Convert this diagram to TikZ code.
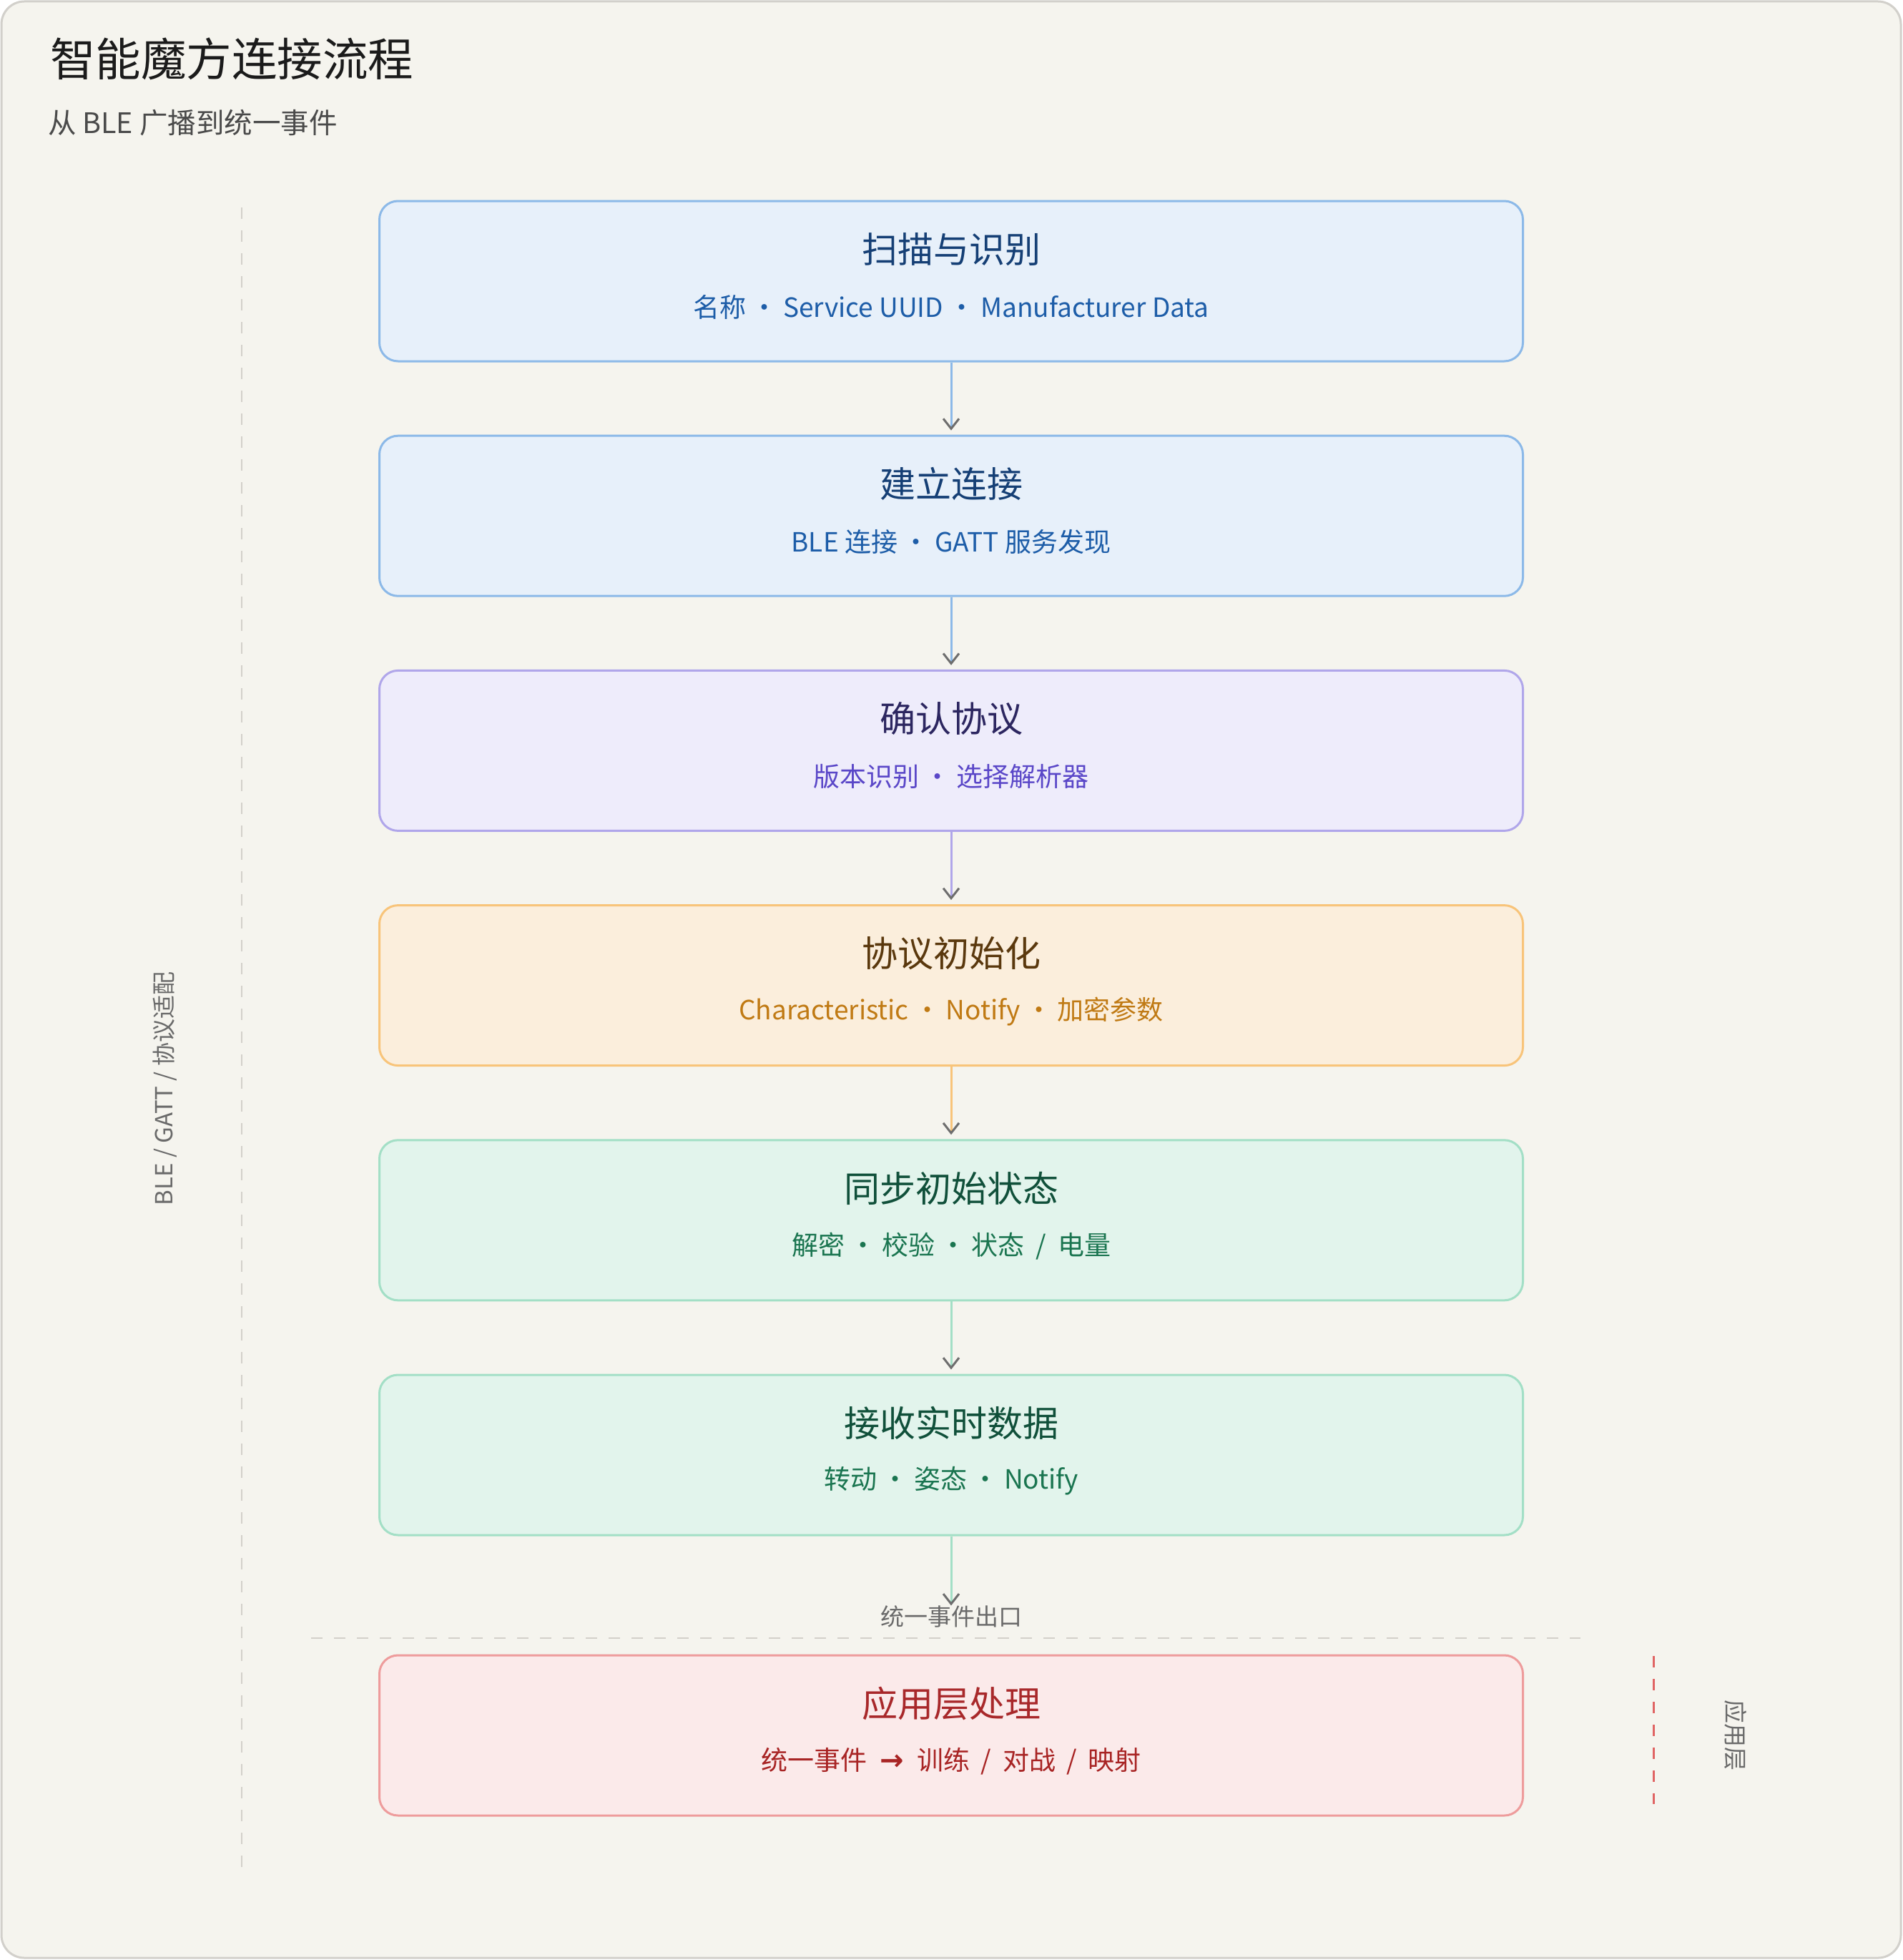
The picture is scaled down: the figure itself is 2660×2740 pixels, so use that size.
\documentclass[tikz,border=0pt]{standalone}
\usepackage{fontspec}
\setmainfont{Noto Sans CJK SC}
\newfontfamily\dejavu{DejaVu Sans}
\usetikzlibrary{arrows.meta,calc}

\definecolor{bg}{HTML}{F5F4EE}
\definecolor{framegray}{HTML}{D2D0CB}
\definecolor{dashgray}{HTML}{D3D0CA}
\definecolor{arrowgray}{HTML}{6E6E6E}
\definecolor{labelgray}{HTML}{6A6A6A}
\definecolor{titleblack}{HTML}{1B1B1B}
\definecolor{subgray}{HTML}{4A4A4A}
% blue
\definecolor{bFill}{HTML}{E7F0FA}
\definecolor{bLine}{HTML}{8CB9E8}
\definecolor{bTitle}{HTML}{153F75}
\definecolor{bSub}{HTML}{1D5DA8}
% lavender
\definecolor{vFill}{HTML}{EEECFB}
\definecolor{vLine}{HTML}{B0A6EA}
\definecolor{vTitle}{HTML}{2C2660}
\definecolor{vSub}{HTML}{5A47C8}
% orange
\definecolor{oFill}{HTML}{FBEEDC}
\definecolor{oLine}{HTML}{F8C47A}
\definecolor{oTitle}{HTML}{5A380D}
\definecolor{oSub}{HTML}{C07A14}
% green
\definecolor{gFill}{HTML}{E2F4EC}
\definecolor{gLine}{HTML}{A3DFC6}
\definecolor{gTitle}{HTML}{10503A}
\definecolor{gSub}{HTML}{1A7550}
% red
\definecolor{rFill}{HTML}{FBEAEA}
\definecolor{rLine}{HTML}{EE9C9C}
\definecolor{rTitle}{HTML}{A8282A}
\definecolor{rSub}{HTML}{A82424}
\definecolor{rDash}{HTML}{E06464}

\newcommand\sdot{\makebox[52pt]{·}}
\newcommand\sslash{\makebox[46pt]{/}}
\newcommand\sarrow{\makebox[70pt]{\dejavu\bfseries\fontsize{40pt}{44pt}\selectfont →}}

\begin{document}
\begin{tikzpicture}[x=1pt,y=-1pt,
  flowbox/.style={draw, line width=3pt, rounded corners=26pt,
    minimum width=1599pt, minimum height=224pt, inner sep=0pt},
  ttl/.style={font=\fontsize{50pt}{60pt}\selectfont, inner sep=0pt},
  subttl/.style={font=\fontsize{37pt}{44pt}\selectfont, inner sep=0pt},
  conn/.style={line width=3pt,
    -{Straight Barb[length=14pt,width=22pt,line width=3pt,color=arrowgray]},
    shorten >=6pt},
  guide/.style={line width=2.5pt, draw=dashgray, dash pattern=on 16pt off 16pt},
  sidelbl/.style={font=\fontsize{33pt}{40pt}\selectfont, text=labelgray, inner sep=0pt}
]
\useasboundingbox (0,0) rectangle (2660,2740);
\fill[white] (0,0) rectangle (2660,2740);
\draw[rounded corners=32pt, line width=3pt, draw=framegray, fill=bg] (2,2) rectangle (2658,2737);

% heading
\node[anchor=west, inner sep=0pt, text=titleblack, font=\fontsize{63.5pt}{70pt}\selectfont] (head) at (70,82) {智能魔方连接流程};
\node[anchor=west, inner sep=0pt, text=subgray, font=\fontsize{39.5pt}{44pt}\selectfont] (subhead) at (67,172) {从 BLE 广播到统一事件};

% guides
\coordinate (gTop) at (338,290);
\coordinate (gBot) at (338,2612);
\draw[guide] (gTop) -- (gBot);
\node[sidelbl, rotate=90] (lside) at (231,1522) {BLE / GATT / 协议适配};

\coordinate (hL) at (435,2290);
\coordinate (hR) at (2210,2290);
\draw[guide] (hL) -- (hR);

\coordinate (rTop) at (2312,2315);
\coordinate (rBot) at (2312,2522);
\draw[line width=3pt, draw=rDash, dash pattern=on 16pt off 16pt] (rTop) -- (rBot);
\node[sidelbl, rotate=-90] (rside) at (2427,2426) {应用层};

% boxes
\node[flowbox, draw=bLine, fill=bFill] (b1) at (1330,393) {};
\node[flowbox, draw=bLine, fill=bFill] (b2) at (1330,721.2) {};
\node[flowbox, draw=vLine, fill=vFill] (b3) at (1330,1049.4) {};
\node[flowbox, draw=oLine, fill=oFill] (b4) at (1330,1377.6) {};
\node[flowbox, draw=gLine, fill=gFill] (b5) at (1330,1705.8) {};
\node[flowbox, draw=gLine, fill=gFill] (b6) at (1330,2034) {};
\node[flowbox, draw=rLine, fill=rFill] (b7) at (1330,2426) {};

% texts
\node[ttl, text=bTitle] (t1) at ($(b1.north)+(0,69)$) {扫描与识别};
\node[subttl, text=bSub] (s1) at ($(b1.north)+(0,150)$) {名称\sdot Service UUID\sdot Manufacturer Data};
\node[ttl, text=bTitle] (t2) at ($(b2.north)+(0,69)$) {建立连接};
\node[subttl, text=bSub] (s2) at ($(b2.north)+(0,150)$) {BLE 连接\sdot GATT 服务发现};
\node[ttl, text=vTitle] (t3) at ($(b3.north)+(0,69)$) {确认协议};
\node[subttl, text=vSub] (s3) at ($(b3.north)+(0,150)$) {版本识别\sdot 选择解析器};
\node[ttl, text=oTitle] (t4) at ($(b4.north)+(0,69)$) {协议初始化};
\node[subttl, text=oSub] (s4) at ($(b4.north)+(0,150)$) {Characteristic\sdot Notify\sdot 加密参数};
\node[ttl, text=gTitle] (t5) at ($(b5.north)+(0,69)$) {同步初始状态};
\node[subttl, text=gSub] (s5) at ($(b5.north)+(0,150)$) {解密\sdot 校验\sdot 状态\sslash 电量};
\node[ttl, text=gTitle] (t6) at ($(b6.north)+(0,69)$) {接收实时数据};
\node[subttl, text=gSub] (s6) at ($(b6.north)+(0,150)$) {转动\sdot 姿态\sdot Notify};
\node[ttl, text=rTitle] (t7) at ($(b7.north)+(0,69)$) {应用层处理};
\node[subttl, text=rSub] (s7) at ($(b7.north)+(0,150)$) {统一事件\sarrow 训练\sslash 对战\sslash 映射};

\node[sidelbl] (exitlbl) at (1330,2260) {统一事件出口};

% connectors
\draw[conn, draw=bLine] (b1.south) -- (b2.north);
\draw[conn, draw=bLine] (b2.south) -- (b3.north);
\draw[conn, draw=vLine] (b3.south) -- (b4.north);
\draw[conn, draw=oLine] (b4.south) -- (b5.north);
\draw[conn, draw=gLine] (b5.south) -- (b6.north);
\draw[conn, draw=gLine, shorten >=0pt] (b6.south) -- (exitlbl.north);
\end{tikzpicture}
\end{document}
